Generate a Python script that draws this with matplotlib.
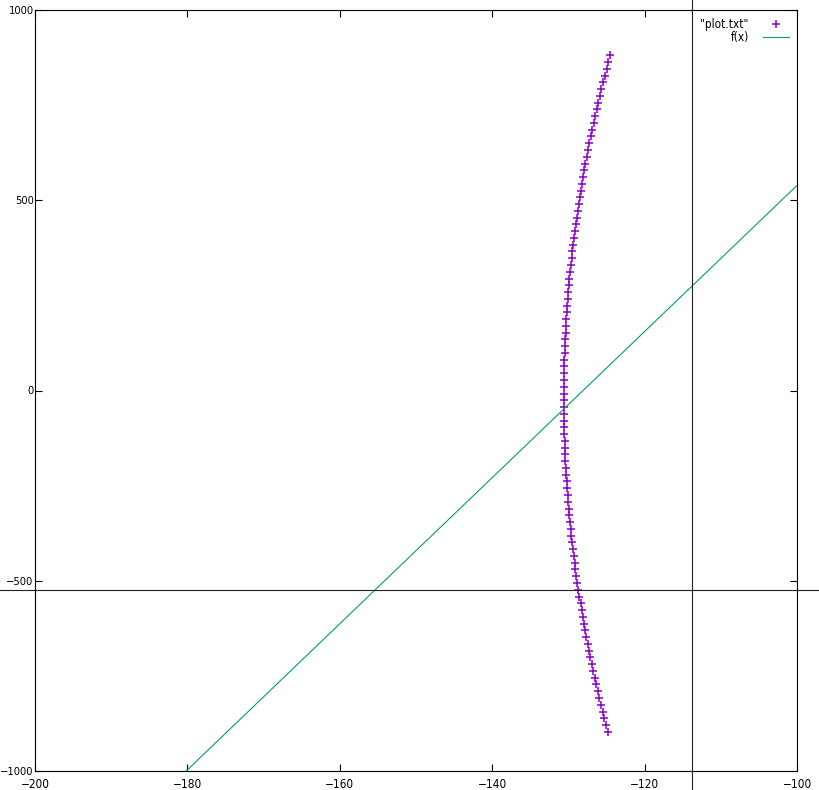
import matplotlib
matplotlib.use("Agg")
import matplotlib.pyplot as plt
import numpy as np

plt.rcParams['font.family'] = ['Liberation Sans Narrow', 'DejaVu Sans']
plt.rcParams['font.stretch'] = 'condensed'

# data read from "plot.txt" curve
pts_x = [-124.82, -125.05, -125.28, -125.50, -125.72, -125.93, -126.14, -126.34, -126.54, -126.73,
         -126.92, -127.11, -127.29, -127.46, -127.63, -127.80, -127.96, -128.11, -128.27, -128.41,
         -128.55, -128.69, -128.82, -128.95, -129.07, -129.19, -129.30, -129.41, -129.52, -129.62,
         -129.71, -129.80, -129.88, -129.96, -130.04, -130.11, -130.18, -130.24, -130.29, -130.34,
         -130.39, -130.43, -130.47, -130.50, -130.53, -130.55, -130.57, -130.59, -130.60, -130.60,
         -130.60, -130.59, -130.58, -130.57, -130.55, -130.53, -130.50, -130.46, -130.42, -130.38,
         -130.33, -130.28, -130.22, -130.16, -130.09, -130.02, -129.95, -129.86, -129.78, -129.69,
         -129.59, -129.49, -129.39, -129.28, -129.16, -129.04, -128.92, -128.79, -128.66, -128.52,
         -128.38, -128.23, -128.08, -127.92, -127.76, -127.59, -127.42, -127.25, -127.06, -126.88,
         -126.69, -126.49, -126.29, -126.09, -125.88, -125.67, -125.45, -125.22, -125.00, -124.76,
         -124.53]
pts_y = [-897.0, -879.2, -861.4, -843.7, -825.9, -808.1, -790.3, -772.5, -754.8, -737.0,
         -719.2, -701.4, -683.6, -665.9, -648.1, -630.3, -612.5, -594.7, -577.0, -559.2,
         -541.4, -523.6, -505.8, -488.1, -470.3, -452.5, -434.7, -416.9, -399.2, -381.4,
         -363.6, -345.8, -328.0, -310.3, -292.5, -274.7, -256.9, -239.1, -221.4, -203.6,
         -185.8, -168.0, -150.2, -132.5, -114.7, -96.9, -79.1, -61.3, -43.6, -25.8,
         -8.0, 9.8, 27.6, 45.3, 63.1, 80.9, 98.7, 116.5, 134.2, 152.0,
         169.8, 187.6, 205.4, 223.1, 240.9, 258.7, 276.5, 294.3, 312.0, 329.8,
         347.6, 365.4, 383.2, 400.9, 418.7, 436.5, 454.3, 472.1, 489.8, 507.6,
         525.4, 543.2, 561.0, 578.7, 596.5, 614.3, 632.1, 649.9, 667.6, 685.4,
         703.2, 721.0, 738.8, 756.5, 774.3, 792.1, 809.9, 827.7, 845.4, 863.2,
         881.0]

# f(x) = a*x + b
f_slope = 19.2
f_icpt = 2459.0

# mouse crosshair position
cross_x = -113.8
cross_y = -523.7

xticks = [-200, -180, -160, -140, -120, -100]
yticks = [-1000, -500, 0, 500, 1000]

fig = plt.figure(figsize=(8.2, 7.9), dpi=100)
ax = fig.add_axes([35/820, 19/790, 762/820, 761/790])

fx = np.array([-200.0, -100.0])
ax.plot(pts_x, pts_y, linestyle='none', marker='+', color='#8a00cc',
        markersize=6, markeredgewidth=1.1, label='"plot.txt"')
ax.plot(fx, f_slope*fx + f_icpt, color='#009e73', lw=0.8, label='f(x)')

ax.set_xlim(-200, -100)
ax.set_ylim(-1000, 1000)
ax.set_xticks(xticks)
ax.set_yticks(yticks)
ax.set_xticklabels(['\u2212%d' % abs(t) for t in xticks])
ax.set_yticklabels([('\u2212%d' % abs(t)) if t < 0 else str(t) for t in yticks])
ax.tick_params(direction='in', length=5, width=0.8, top=True, right=True,
               labelsize=8.5, colors='black')
ax.tick_params(axis='x', pad=5)
ax.tick_params(axis='y', pad=1, labelsize=8)
for s in ax.spines.values():
    s.set_linewidth(0.8)

# crosshair lines run past the axes to the figure edges
ax.axvline(cross_x, ymin=-0.1, ymax=1.1, color='#222222', lw=0.8, clip_on=False)
ax.axhline(cross_y, xmin=-0.1, xmax=1.1, color='#222222', lw=0.8, clip_on=False)

ax.legend(loc='upper right', frameon=False, markerfirst=False, fontsize=8.5,
          handlelength=2.2, borderaxespad=0.3, labelspacing=0.0, handletextpad=1.2)

fig.savefig('out.png', dpi=100)
